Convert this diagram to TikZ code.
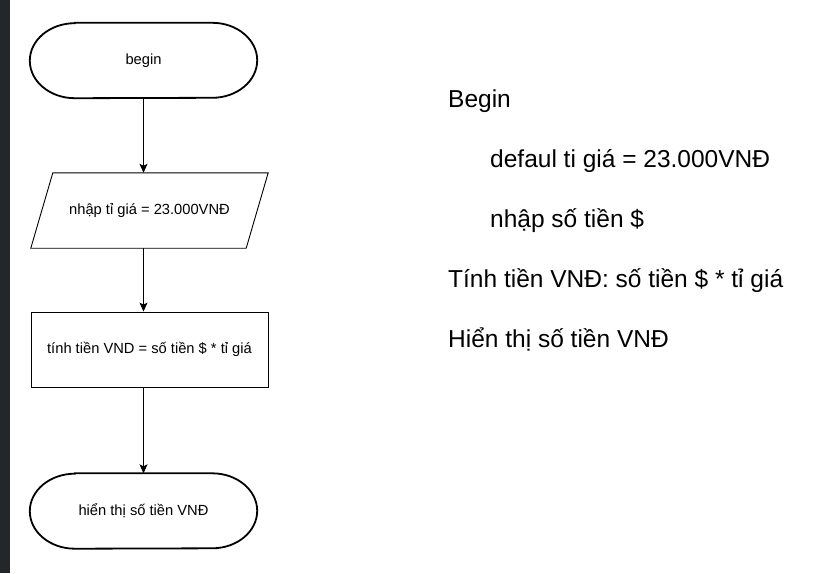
\documentclass[tikz,border=0pt]{standalone}
\usepackage{fontspec}
\setmainfont{Liberation Sans}
\usetikzlibrary{arrows.meta,calc}
\definecolor{stripcol}{HTML}{23272A}
\tikzset{
  term/.style={minimum width=227pt, minimum height=75pt, inner sep=0pt, font=\fontsize{14.7}{17}\selectfont},
  termline/.style={line width=1.8pt},
  procbox/.style={draw, line width=0.9pt, minimum width=237pt, minimum height=75pt, inner sep=0pt, font=\fontsize{14.7}{17}\selectfont},
  iobox/.style={minimum width=237pt, minimum height=75pt, inner sep=0pt, font=\fontsize{14.7}{17}\selectfont},
  flow/.style={line width=0.9pt, -{Stealth[length=9pt,width=8pt,inset=2pt]}},
  ptext/.style={anchor=base west, inner sep=0pt, font=\fontsize{24.5}{28}\selectfont}
}
\newcommand{\termshape}[1]{%
  \draw[termline] ($(#1.north west)+(45,0)$) -- ($(#1.north east)-(45,0)$)
    arc[start angle=90, end angle=-90, x radius=45pt, y radius=37.5pt]
    -- ($(#1.south west)+(45,0)$)
    arc[start angle=270, end angle=90, x radius=45pt, y radius=37.5pt] -- cycle;}
\begin{document}
\begin{tikzpicture}[x=1pt,y=-1pt]
\useasboundingbox (0,0) rectangle (829,573);
\fill[white] (0,0) rectangle (829,573);
\fill[stripcol] (0,0) rectangle (10,573);
% flowchart
\node[term] (begin) at (143.5,60.5) {begin};
\termshape{begin}
\node[iobox] (inp) at (149.5,210.5) {nhập tỉ giá = 23.000VNĐ};
\draw[line width=0.9pt] ($(inp.north west)+(22,0)$) -- (inp.north east) -- ($(inp.south east)-(22,0)$) -- (inp.south west) -- cycle;
\node[procbox] (calc) at (149.5,349.5) {tính tiền VND = số tiền \$ * tỉ giá};
\node[term] (end) at (143.5,511) {hiển thị số tiền VNĐ};
\termshape{end}
\draw[flow] (begin.south) -- (begin.south |- inp.north);
\draw[flow] (begin.south |- inp.south) -- (begin.south |- calc.north);
\draw[flow] (begin.south |- calc.south) -- (end.north);
% pseudocode
\node[ptext] (p1) at (448,107.5) {Begin};
\node[ptext] (p2) at (490,167.5) {defaul ti giá = 23.000VNĐ};
\node[ptext] (p3) at (490,227.5) {nhập số tiền \$};
\node[ptext] (p4) at (448,287.5) {Tính tiền VNĐ: số tiền \$ * tỉ giá};
\node[ptext] (p5) at (448,347.5) {Hiển thị số tiền VNĐ};
\end{tikzpicture}
\end{document}
